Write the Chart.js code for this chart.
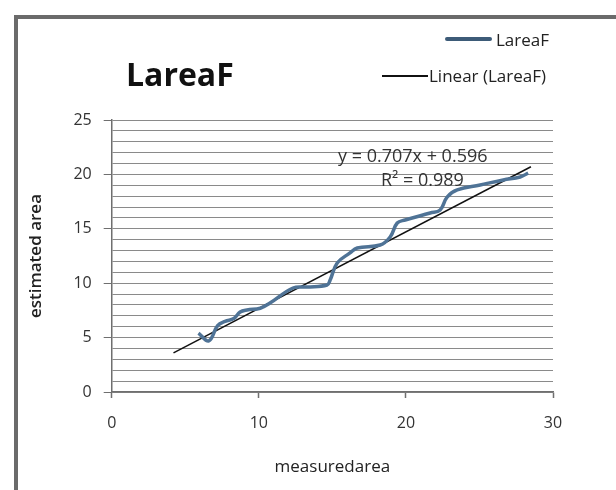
<!DOCTYPE html>
<html>
<head>
<meta charset="utf-8">
<script src="https://cdn.jsdelivr.net/npm/chart.js@4"></script>
<style>
  body { margin: 0; background: #fff; }
  #wrap { position: relative; width: 616px; height: 490px; overflow: hidden; font-family: "Open Sans", sans-serif; }
  #frame { position: absolute; left: 14px; top: 15px; width: 620px; height: 500px;
           border-left: 4px solid #6b6b6b; border-top: 4px solid #6b6b6b; pointer-events: none; }
  .txt { position: absolute; white-space: nowrap; color: #222; }
  #title { left: 126px; top: 52px; font-size: 32px; font-weight: 700; color: #111; }
  .sw { position: absolute; }
  #eq { left: 338px; top: 143px; font-size: 18px; color: #333; }
  #r2 { left: 381px; top: 167px; font-size: 18px; color: #333; }
</style>
</head>
<body>
<div id="wrap">
  <canvas id="chart" width="616" height="490"></canvas>
  <div id="frame"></div>
  <div id="title" class="txt">LareaF</div>
  <div class="sw" style="left:445px; top:37px; width:47px; height:4px; background:#3d5b78; border-radius:2px;"></div>
  <div class="txt" style="left:496px; top:28px; font-size:17px;">LareaF</div>
  <div class="sw" style="left:382px; top:75px; width:46px; height:1.5px; background:#111;"></div>
  <div class="txt" style="left:429px; top:64px; font-size:17px;">Linear (LareaF)</div>
  <div id="eq" class="txt">y = 0.707x + 0.596</div>
  <div id="r2" class="txt">R² = 0.989</div>
</div>
<script>
const measured = [5.9, 6.6, 7.2, 7.71, 8.3, 8.73, 9.2, 10.1, 10.76, 12.33, 13.28, 14.64, 14.85, 15.33,
                  16.2, 16.69, 18.25, 18.93, 19.41, 19.95, 21.65, 22.33, 22.8, 23.49, 25.05, 26.62, 27.77, 28.31];
const estimated = [5.42, 4.7, 6.1, 6.5, 6.75, 7.35, 7.54, 7.7, 8.18, 9.56, 9.65, 9.83, 10.29, 11.86,
                   12.78, 13.24, 13.51, 14.25, 15.53, 15.81, 16.45, 16.73, 17.92, 18.57, 19.03, 19.49, 19.76, 20.13];

// linear trend line end points
const trendX = [4.2, 28.5];
const trendY = [3.6, 20.7];

const xTicks = [0, 10, 20, 30];
const yTicks = [0, 5, 10, 15, 20, 25];

const tickFont = { family: 'Open Sans', size: 16 };

new Chart(document.getElementById('chart'), {
    type: 'scatter',
    data: {
        datasets: [{
            label: 'LareaF',
            data: measured.map((x, i) => ({ x: x, y: estimated[i] })),
            showLine: true,
            borderColor: '#4f7396',
            borderWidth: 3.5,
            tension: 0.4,
            pointRadius: 0
        }, {
            label: 'Linear (LareaF)',
            data: trendX.map((x, i) => ({ x: x, y: trendY[i] })),
            showLine: true,
            borderColor: '#111',
            borderWidth: 1.5,
            pointRadius: 0
        }]
    },
    options: {
        responsive: false,
        animation: false,
        layout: { padding: { left: 22, right: 63, top: 120, bottom: 9 } },
        plugins: {
            legend: { display: false },
            tooltip: { enabled: false }
        },
        scales: {
            x: {
                type: 'linear',
                min: 0,
                max: 30,
                afterBuildTicks: (s) => { s.ticks = xTicks.map(v => ({ value: v })); },
                afterFit: (s) => { s.height = 89; },
                border: { color: '#6f6f6f', width: 1.5 },
                grid: { drawOnChartArea: false, tickLength: 6, tickColor: '#6f6f6f', tickWidth: 1.5 },
                ticks: { color: '#333', font: tickFont, padding: 16 },
                title: { display: true, text: 'measuredarea', color: '#222', font: { family: 'Open Sans', size: 17 }, padding: 4 }
            },
            y: {
                min: 0,
                max: 25,
                ticks: {
                    stepSize: 1,
                    autoSkip: false,
                    color: '#333',
                    font: tickFont,
                    padding: 12,
                    callback: (v) => yTicks.includes(v) ? v : ''
                },
                afterFit: (s) => { s.width = 89.7; },
                border: { color: '#6f6f6f', width: 1.5 },
                grid: {
                    color: '#8a8a8a',
                    lineWidth: 1,
                    tickLength: 8,
                    tickColor: (ctx) => (ctx.tick && yTicks.includes(ctx.tick.value)) ? '#6f6f6f' : 'rgba(0,0,0,0)'
                },
                title: { display: true, text: 'estimated area', color: '#222', font: { family: 'Open Sans', size: 17, weight: '600' }, padding: 4 }
            }
        }
    }
});
</script>
</body>
</html>
